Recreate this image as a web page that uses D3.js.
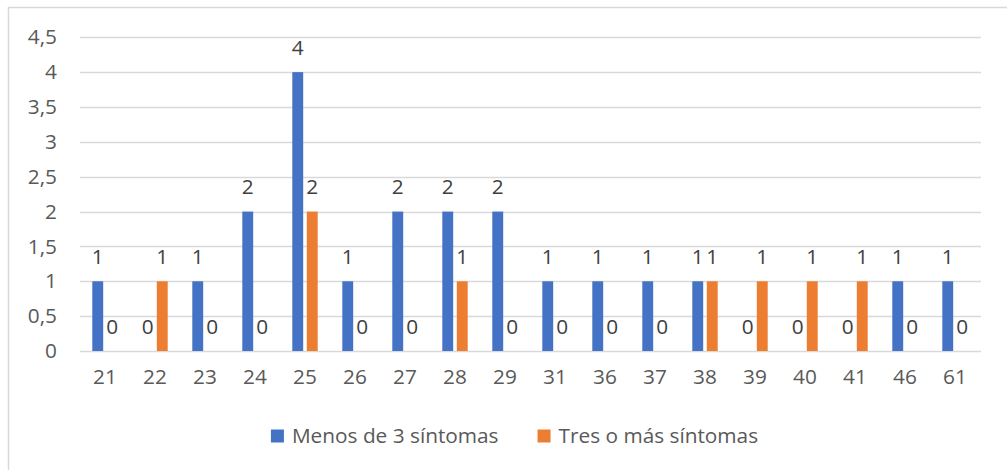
<!DOCTYPE html>
<html>
<head>
<meta charset="utf-8">
<script src="https://cdn.jsdelivr.net/npm/d3@7"></script>
<style>
  body { margin: 0; background: #fff; }
  svg { display: block; font-family: "Open Sans", sans-serif; }
</style>
</head>
<body>
<svg></svg>
<script>
let edades = ['21','22','23','24','25','26','27','28','29','31','36','37','38','39','40','41','46','61']
let menosDe3 = [1,0,1,2,4,1,2,2,2,1,1,1,1,0,0,0,1,1]
let tresOMas = [0,1,0,0,2,0,0,1,0,0,0,0,1,1,1,1,0,0]
let seriesNames = ['Menos de 3 síntomas', 'Tres o más síntomas']
let seriesColors = ['#4472C4', '#ED7D31']
let yTicks = [0,0.5,1,1.5,2,2.5,3,3.5,4,4.5]

let w = 1007
let h = 470
let fs = 20.8

let svg = d3.select('svg').attr('width', w).attr('height', h)

// chart frame (right and bottom edges fall outside the picture)
svg.append('rect')
    .attr('x', 8.5).attr('y', 7.5)
    .attr('width', 1020).attr('height', 480)
    .attr('fill', 'none')
    .attr('stroke', '#d9d9d9')
    .attr('stroke-width', 1.5)

let xScale = d3.scaleBand().domain(edades).range([80, 980]).padding(0)
let xInner = d3.scaleBand().domain([0, 1]).range([12.3, 37.7]).paddingInner(0.25)
let yScale = d3.scaleLinear().domain([0, 4.5]).range([351, 37.3])

// gridlines
svg.append('g')
    .selectAll('line')
    .data(yTicks)
    .enter()
    .append('line')
    .attr('x1', 80).attr('x2', 981)
    .attr('y1', d => Math.round(yScale(d)) + 0.5)
    .attr('y2', d => Math.round(yScale(d)) + 0.5)
    .attr('stroke', '#d9d9d9')
    .attr('stroke-width', 1.3)

// y axis labels
let yAxis = d3.axisLeft(yScale)
    .tickValues(yTicks)
    .tickSize(0)
    .tickPadding(0)
    .tickFormat(d => String(d).replace('.', ','))

let gy = svg.append('g')
    .attr('transform', 'translate(57,0)')
    .call(yAxis)
gy.select('.domain').remove()
gy.selectAll('text')
    .attr('font-size', fs)
    .attr('font-family', '"Open Sans", sans-serif')
    .attr('fill', '#595959')

// x axis labels
let xAxis = d3.axisBottom(xScale).tickSize(0).tickPadding(0)
let gx = svg.append('g')
    .attr('transform', 'translate(0,369)')
    .call(xAxis)
gx.select('.domain').remove()
gx.selectAll('text')
    .attr('font-size', fs)
    .attr('font-family', '"Open Sans", sans-serif')
    .attr('fill', '#595959')

let series = [menosDe3, tresOMas]

series.forEach((vals, s) => {
    let g = svg.append('g')
    g.selectAll('rect')
        .data(vals)
        .enter()
        .append('rect')
        .attr('x', (d, i) => xScale(edades[i]) + xInner(s))
        .attr('width', xInner.bandwidth())
        .attr('y', d => yScale(d))
        .attr('height', d => yScale(0) - yScale(d))
        .attr('fill', seriesColors[s])

    g.selectAll('text')
        .data(vals)
        .enter()
        .append('text')
        .attr('x', (d, i) => xScale(edades[i]) + xInner(s) + xInner.bandwidth() / 2)
        .attr('y', d => yScale(d) - 17.5)
        .attr('text-anchor', 'middle')
        .attr('font-size', fs)
        .attr('fill', '#404040')
        .text(d => d)
})

// legend
let legend = svg.append('g')
let items = legend.selectAll('g')
    .data(seriesNames)
    .enter()
    .append('g')
items.append('rect')
    .attr('width', 13).attr('height', 13)
    .attr('y', 429.5)
    .attr('fill', (d, i) => seriesColors[i])
items.append('text')
    .attr('x', 21)
    .attr('y', 442.5)
    .attr('font-size', fs)
    .attr('fill', '#595959')
    .text(d => d)

let xpos = 0
let widths = items.nodes().map(n => n.querySelector('text').getComputedTextLength() + 21)
let total = d3.sum(widths) + 39
let start = 514.5 - total / 2
items.attr('transform', (d, i) => {
    let t = 'translate(' + (start + xpos) + ',0)'
    xpos += widths[i] + 39
    return t
})
</script>
</body>
</html>
